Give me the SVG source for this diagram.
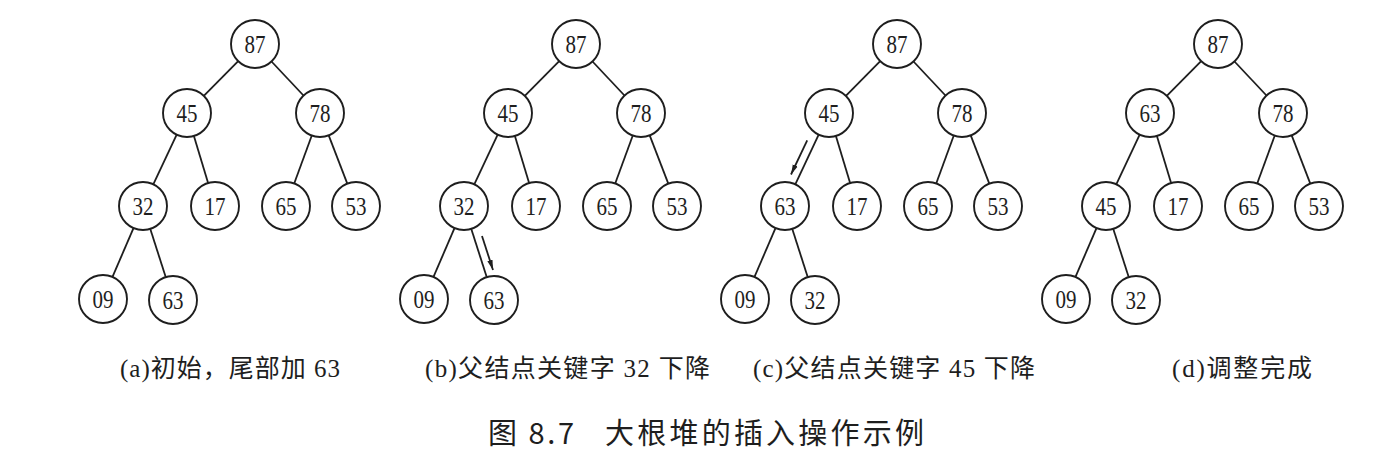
<svg xmlns="http://www.w3.org/2000/svg" width="1397" height="455" viewBox="0 0 1397 455">
<style>
.n circle{fill:#fff;stroke:#1e1e1e;stroke-width:1.9}
.n text{font-family:"Liberation Serif","Times New Roman",serif;font-size:25px;text-anchor:middle;fill:#1e1e1e}
.e line{stroke:#1e1e1e;stroke-width:1.8}
.ar{stroke:#1e1e1e;stroke-width:1.6;marker-end:url(#ah)}
.cap{font-family:"Liberation Serif","Noto Sans CJK SC",serif;font-size:25px;fill:#1e1e1e}
.title{font-family:"Noto Sans CJK SC","Liberation Sans",sans-serif;font-size:29px;fill:#1e1e1e}
</style>
<defs>
<marker id="ah" markerUnits="userSpaceOnUse" markerWidth="11" markerHeight="7" refX="10" refY="3.5" orient="auto">
<path d="M0,0.8 L10,3.5 L0,6.2 z" fill="#1e1e1e"/>
</marker>
</defs>
<rect width="1397" height="455" fill="#fff"/>

<g id="tree-a">
<g id="a-connectors" class="e">
<line x1="238.2" y1="61.1" x2="203.8" y2="95.9"/>
<line x1="271.5" y1="61.5" x2="303.5" y2="95.5"/>
<line x1="176.7" y1="134.7" x2="153.3" y2="184.3"/>
<line x1="193.9" y1="136" x2="208.1" y2="183"/>
<line x1="311.8" y1="135.5" x2="294.2" y2="183.5"/>
<line x1="328.7" y1="135.4" x2="347.3" y2="183.6"/>
<line x1="133.5" y1="228.1" x2="112.5" y2="276.9"/>
<line x1="150.3" y1="228.9" x2="165.7" y2="277.1"/>
</g>
<g id="a-87" class="n"><circle cx="255" cy="44" r="24"/><text x="255" y="52.5" textLength="21" lengthAdjust="spacingAndGlyphs">87</text></g>
<g id="a-45" class="n"><circle cx="187" cy="113" r="24"/><text x="187" y="121.5" textLength="21" lengthAdjust="spacingAndGlyphs">45</text></g>
<g id="a-78" class="n"><circle cx="320" cy="113" r="24"/><text x="320" y="121.5" textLength="21" lengthAdjust="spacingAndGlyphs">78</text></g>
<g id="a-32" class="n"><circle cx="143" cy="206" r="24"/><text x="143" y="214.5" textLength="21" lengthAdjust="spacingAndGlyphs">32</text></g>
<g id="a-17" class="n"><circle cx="215" cy="206" r="24"/><text x="215" y="214.5" textLength="21" lengthAdjust="spacingAndGlyphs">17</text></g>
<g id="a-65" class="n"><circle cx="286" cy="206" r="24"/><text x="286" y="214.5" textLength="21" lengthAdjust="spacingAndGlyphs">65</text></g>
<g id="a-53" class="n"><circle cx="356" cy="206" r="24"/><text x="356" y="214.5" textLength="21" lengthAdjust="spacingAndGlyphs">53</text></g>
<g id="a-09" class="n"><circle cx="103" cy="299" r="24"/><text x="103" y="307.5" textLength="21" lengthAdjust="spacingAndGlyphs">09</text></g>
<g id="a-63" class="n"><circle cx="173" cy="300" r="24"/><text x="173" y="308.5" textLength="21" lengthAdjust="spacingAndGlyphs">63</text></g>
</g>

<g id="tree-b">
<g id="b-connectors" class="e">
<line x1="559.2" y1="61.1" x2="524.8" y2="95.9"/>
<line x1="592.5" y1="61.5" x2="624.5" y2="95.5"/>
<line x1="497.7" y1="134.7" x2="474.3" y2="184.3"/>
<line x1="514.9" y1="136" x2="529.1" y2="183"/>
<line x1="632.8" y1="135.5" x2="615.2" y2="183.5"/>
<line x1="649.7" y1="135.4" x2="668.3" y2="183.6"/>
<line x1="454.5" y1="228.1" x2="433.5" y2="276.9"/>
<line x1="471.3" y1="228.9" x2="486.7" y2="277.1"/>
<line class="ar" x1="482" y1="236" x2="493" y2="270"/>
</g>
<g id="b-87" class="n"><circle cx="576" cy="44" r="24"/><text x="576" y="52.5" textLength="21" lengthAdjust="spacingAndGlyphs">87</text></g>
<g id="b-45" class="n"><circle cx="508" cy="113" r="24"/><text x="508" y="121.5" textLength="21" lengthAdjust="spacingAndGlyphs">45</text></g>
<g id="b-78" class="n"><circle cx="641" cy="113" r="24"/><text x="641" y="121.5" textLength="21" lengthAdjust="spacingAndGlyphs">78</text></g>
<g id="b-32" class="n"><circle cx="464" cy="206" r="24"/><text x="464" y="214.5" textLength="21" lengthAdjust="spacingAndGlyphs">32</text></g>
<g id="b-17" class="n"><circle cx="536" cy="206" r="24"/><text x="536" y="214.5" textLength="21" lengthAdjust="spacingAndGlyphs">17</text></g>
<g id="b-65" class="n"><circle cx="607" cy="206" r="24"/><text x="607" y="214.5" textLength="21" lengthAdjust="spacingAndGlyphs">65</text></g>
<g id="b-53" class="n"><circle cx="677" cy="206" r="24"/><text x="677" y="214.5" textLength="21" lengthAdjust="spacingAndGlyphs">53</text></g>
<g id="b-09" class="n"><circle cx="424" cy="299" r="24"/><text x="424" y="307.5" textLength="21" lengthAdjust="spacingAndGlyphs">09</text></g>
<g id="b-63" class="n"><circle cx="494" cy="300" r="24"/><text x="494" y="308.5" textLength="21" lengthAdjust="spacingAndGlyphs">63</text></g>
</g>

<g id="tree-c">
<g id="c-connectors" class="e">
<line x1="880.2" y1="61.1" x2="845.8" y2="95.9"/>
<line x1="913.5" y1="61.5" x2="945.5" y2="95.5"/>
<line x1="818.7" y1="134.7" x2="795.3" y2="184.3"/>
<line x1="835.9" y1="136" x2="850.1" y2="183"/>
<line x1="953.8" y1="135.5" x2="936.2" y2="183.5"/>
<line x1="970.7" y1="135.4" x2="989.3" y2="183.6"/>
<line x1="775.5" y1="228.1" x2="754.5" y2="276.9"/>
<line x1="792.3" y1="228.9" x2="807.7" y2="277.1"/>
<line class="ar" x1="807.2" y1="140.3" x2="791" y2="174.5"/>
</g>
<g id="c-87" class="n"><circle cx="897" cy="44" r="24"/><text x="897" y="52.5" textLength="21" lengthAdjust="spacingAndGlyphs">87</text></g>
<g id="c-45" class="n"><circle cx="829" cy="113" r="24"/><text x="829" y="121.5" textLength="21" lengthAdjust="spacingAndGlyphs">45</text></g>
<g id="c-78" class="n"><circle cx="962" cy="113" r="24"/><text x="962" y="121.5" textLength="21" lengthAdjust="spacingAndGlyphs">78</text></g>
<g id="c-63" class="n"><circle cx="785" cy="206" r="24"/><text x="785" y="214.5" textLength="21" lengthAdjust="spacingAndGlyphs">63</text></g>
<g id="c-17" class="n"><circle cx="857" cy="206" r="24"/><text x="857" y="214.5" textLength="21" lengthAdjust="spacingAndGlyphs">17</text></g>
<g id="c-65" class="n"><circle cx="928" cy="206" r="24"/><text x="928" y="214.5" textLength="21" lengthAdjust="spacingAndGlyphs">65</text></g>
<g id="c-53" class="n"><circle cx="998" cy="206" r="24"/><text x="998" y="214.5" textLength="21" lengthAdjust="spacingAndGlyphs">53</text></g>
<g id="c-09" class="n"><circle cx="745" cy="299" r="24"/><text x="745" y="307.5" textLength="21" lengthAdjust="spacingAndGlyphs">09</text></g>
<g id="c-32" class="n"><circle cx="815" cy="300" r="24"/><text x="815" y="308.5" textLength="21" lengthAdjust="spacingAndGlyphs">32</text></g>
</g>

<g id="tree-d">
<g id="d-connectors" class="e">
<line x1="1201.2" y1="61.1" x2="1166.8" y2="95.9"/>
<line x1="1234.5" y1="61.5" x2="1266.5" y2="95.5"/>
<line x1="1139.7" y1="134.7" x2="1116.3" y2="184.3"/>
<line x1="1156.9" y1="136" x2="1171.1" y2="183"/>
<line x1="1274.8" y1="135.5" x2="1257.2" y2="183.5"/>
<line x1="1291.7" y1="135.4" x2="1310.3" y2="183.6"/>
<line x1="1096.5" y1="228.1" x2="1075.5" y2="276.9"/>
<line x1="1113.3" y1="228.9" x2="1128.7" y2="277.1"/>
</g>
<g id="d-87" class="n"><circle cx="1218" cy="44" r="24"/><text x="1218" y="52.5" textLength="21" lengthAdjust="spacingAndGlyphs">87</text></g>
<g id="d-63" class="n"><circle cx="1150" cy="113" r="24"/><text x="1150" y="121.5" textLength="21" lengthAdjust="spacingAndGlyphs">63</text></g>
<g id="d-78" class="n"><circle cx="1283" cy="113" r="24"/><text x="1283" y="121.5" textLength="21" lengthAdjust="spacingAndGlyphs">78</text></g>
<g id="d-45" class="n"><circle cx="1106" cy="206" r="24"/><text x="1106" y="214.5" textLength="21" lengthAdjust="spacingAndGlyphs">45</text></g>
<g id="d-17" class="n"><circle cx="1178" cy="206" r="24"/><text x="1178" y="214.5" textLength="21" lengthAdjust="spacingAndGlyphs">17</text></g>
<g id="d-65" class="n"><circle cx="1249" cy="206" r="24"/><text x="1249" y="214.5" textLength="21" lengthAdjust="spacingAndGlyphs">65</text></g>
<g id="d-53" class="n"><circle cx="1319" cy="206" r="24"/><text x="1319" y="214.5" textLength="21" lengthAdjust="spacingAndGlyphs">53</text></g>
<g id="d-09" class="n"><circle cx="1066" cy="299" r="24"/><text x="1066" y="307.5" textLength="21" lengthAdjust="spacingAndGlyphs">09</text></g>
<g id="d-32" class="n"><circle cx="1136" cy="300" r="24"/><text x="1136" y="308.5" textLength="21" lengthAdjust="spacingAndGlyphs">32</text></g>
</g>

<g id="captions">
<text class="cap" x="120" y="377" textLength="220" lengthAdjust="spacing">(a)初始，尾部加 63</text>
<text class="cap" x="425" y="377" textLength="285" lengthAdjust="spacing">(b)父结点关键字 32 下降</text>
<text class="cap" x="753" y="377" textLength="282" lengthAdjust="spacing">(c)父结点关键字 45 下降</text>
<text class="cap" x="1172" y="377" textLength="140" lengthAdjust="spacing">(d)调整完成</text>
<text class="title" x="488" y="444"><tspan x="488" textLength="86" lengthAdjust="spacing">图 8.7</tspan><tspan x="605" textLength="319" lengthAdjust="spacing">大根堆的插入操作示例</tspan></text>
</g>
</svg>
